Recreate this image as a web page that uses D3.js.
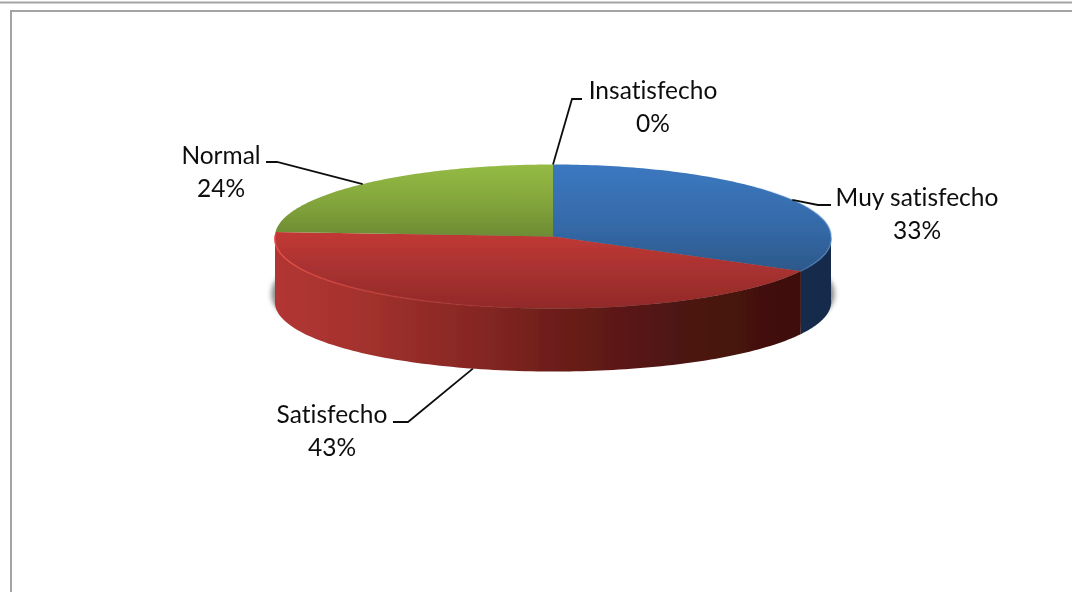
<!DOCTYPE html>
<html><head><meta charset="utf-8">
<script src="https://cdn.jsdelivr.net/npm/d3@7"></script>
<style>html,body{margin:0;padding:0;background:#fff;overflow:hidden}svg{display:block}
text{font-family:Lato,"Noto Sans",sans-serif;font-size:24.5px;fill:#111;text-anchor:middle;font-variant-ligatures:none}</style>
</head><body><svg id="c" width="1072" height="592"></svg>
<script>
const categories = ["Muy satisfecho", "Satisfecho", "Normal", "Insatisfecho"];
const values = [33, 43, 24, 0];
const labelCentres = [[917, 206], [332, 423], [221, 164], [653, 99]];
const labelElbows = [[[818, 205], [831, 205]], [[408, 422], [393, 422]], [[277, 162], [266, 162]], [[572, 99], [582, 99]]];
const wallDepthPx = 63;

const W = 1072, H = 592, cx = 553, cy = 236.5, rx = 278, ry = 72, perspective = 0.035;
const svg = d3.select("#c");
const defs = svg.append("defs");

function linear(id, x1, y1, x2, y2, stops) {
  const g = defs.append("linearGradient").attr("id", id).attr("gradientUnits", "userSpaceOnUse")
    .attr("x1", x1).attr("y1", y1).attr("x2", x2).attr("y2", y2);
  stops.forEach(s => g.append("stop").attr("offset", s[0]).attr("stop-color", s[1]).attr("stop-opacity", s[2] === undefined ? 1 : s[2]));
}
const discTop = cy - ry, discBot = cy + ry;
linear("g0", 0, discTop, 0, cy + 36, [[0, "#3b78c0"], [0.55, "#356aa9"], [1, "#2c5889"]]);
linear("g1", 0, cy - 5, 0, discBot, [[0, "#c23a36"], [0.5, "#a83130"], [1, "#922a28"]]);
linear("g2", 0, discTop, 0, cy, [[0, "#95bb45"], [0.5, "#84a63c"], [1, "#6d8b34"]]);
linear("w0", cx + 240, 0, cx + rx, 0, [[0, "#122a4b"], [1, "#122a4b"]]);
linear("w1", cx - rx, 0, cx + 250, 0, [[0, "#b23632"], [0.15, "#a5322e"], [0.4, "#832622"], [0.55, "#6a1c19"], [0.75, "#4f1512"], [1, "#3e0f0c"]]);
linear("rim", cx - rx, 0, cx, 0, [[0, "#e8504a", 0.9], [0.4, "#d8443f", 0.5], [1, "#c23a36", 0]]);
linear("rimB", cx + 180, 0, cx + rx, 0, [[0, "#5b93d6", 0], [1, "#5b93d6", 0.5]]);

function blur(id, sd) {
  defs.append("filter").attr("id", id).attr("x", "-10%").attr("y", "-20%").attr("width", "120%").attr("height", "140%")
    .append("feGaussianBlur").attr("stdDeviation", sd);
}
blur("soft", 0.6); blur("shadow", 2.4); blur("ink", 0.3);

// frame
const frame = svg.append("g").attr("stroke", "#a3a3a3").attr("stroke-width", 2).attr("fill", "none");
frame.append("line").attr("x1", 0).attr("x2", W).attr("y1", 2.5).attr("y2", 2.5);
frame.append("path").attr("d", d3.line()([[W, 11], [11, 11], [11, H]]));

const pie = d3.pie().value(d => d).sort(null);
const arcs = pie(values);
const px = a => cx + rx * Math.sin(a) * (1 + perspective * Math.max(0, -Math.cos(a)));
const py = a => cy - ry * Math.cos(a);

const wallArea = d3.area().x(px).y0(py).y1(a => py(a) + wallDepthPx);
const edgeLine = d3.line().x(px).y(py);
const sweep = (a0, a1) => d3.range(0, 121).map(i => a0 + (a1 - a0) * i / 120);
const frontStart = Math.PI / 2, frontEnd = 3 * Math.PI / 2;

const chart = svg.append("g");
// soft shadow: the bottom outline, showing only at the two sides
chart.append("path").attr("d", edgeLine(sweep(0, 2 * Math.PI)) + "Z")
  .attr("transform", `translate(${cx},${wallDepthPx}) scale(1.012,0.97) translate(${-cx},0)`)
  .attr("fill", "#8a8a8a").attr("filter", "url(#shadow)");

const disc = chart.append("g").attr("filter", "url(#soft)");
// visible walls
arcs.forEach((d, i) => {
  const a0 = Math.max(d.startAngle, frontStart), a1 = Math.min(d.endAngle, frontEnd);
  if (a1 > a0) disc.append("path").attr("d", wallArea(sweep(a0, a1))).attr("fill", `url(#w${i})`);
});
// top faces
arcs.forEach((d, i) => {
  if (d.endAngle - d.startAngle <= 0) return;
  const pts = sweep(d.startAngle, d.endAngle);
  const shape = d3.line()([[cx, cy], ...pts.map(a => [px(a), py(a)])]) + "Z";
  disc.append("path").attr("d", shape).attr("fill", `url(#g${i})`);
});
// bevel highlights
disc.append("path").attr("d", edgeLine(sweep(Math.PI * 1.05, frontEnd + 0.02)))
  .attr("fill", "none").attr("stroke", "url(#rim)").attr("stroke-width", 1.5);
disc.append("path").attr("d", edgeLine(sweep(0.8, arcs[0].endAngle)))
  .attr("fill", "none").attr("stroke", "url(#rimB)").attr("stroke-width", 1.6);

// leaders and labels
const ink = svg.append("g").attr("filter", "url(#ink)");
const leader = d3.line();
arcs.forEach((d, i) => {
  const mid = (d.startAngle + d.endAngle) / 2;
  const front = mid > frontStart && mid < frontEnd;
  const start = [px(mid), py(mid) + (front ? wallDepthPx : 0)];
  ink.append("path").attr("d", leader([start, ...labelElbows[i]]))
    .attr("fill", "none").attr("stroke", "#111").attr("stroke-width", 1.8);
  const [x, y] = labelCentres[i];
  const t = ink.append("text").attr("x", x).attr("y", y);
  t.append("tspan").attr("x", x).text(categories[i]);
  t.append("tspan").attr("x", x).attr("dy", 32.5).text(d3.format(".0f")(values[i]) + "%");
});
</script></body></html>
